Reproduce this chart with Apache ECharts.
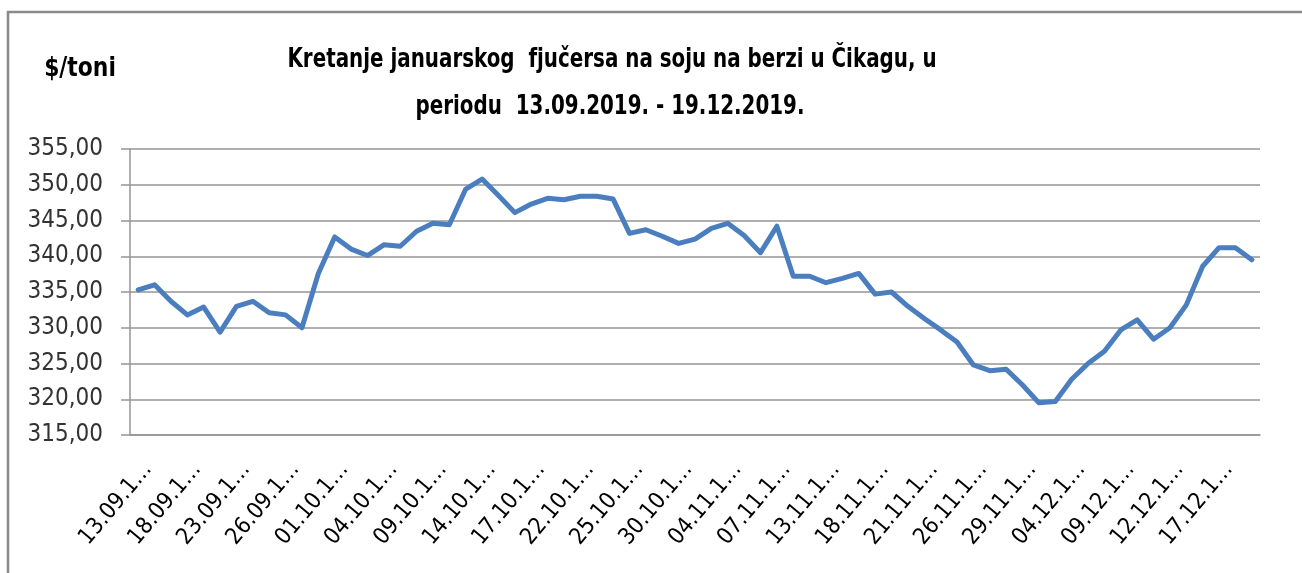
<!DOCTYPE html>
<html>
<head>
<meta charset="utf-8">
<script src="https://cdn.jsdelivr.net/npm/echarts@6/dist/echarts.min.js"></script>
<style>html,body{margin:0;padding:0;background:#fff;}#c{width:1302px;height:573px;}</style>
</head>
<body>
<div id="c"></div>
<script>
const titleLines = ['Kretanje januarskog  fjučersa na soju na berzi u Čikagu, u', 'periodu  13.09.2019. - 19.12.2019.'];
const unitLabel = '$/toni';
const dates = ['13.09.19.','16.09.19.','17.09.19.','18.09.19.','19.09.19.','20.09.19.','23.09.19.','24.09.19.','25.09.19.','26.09.19.','27.09.19.','30.09.19.',
'01.10.19.','02.10.19.','03.10.19.','04.10.19.','07.10.19.','08.10.19.','09.10.19.','10.10.19.','11.10.19.','14.10.19.','15.10.19.','16.10.19.','17.10.19.','18.10.19.','21.10.19.','22.10.19.','23.10.19.','24.10.19.','25.10.19.','28.10.19.','29.10.19.','30.10.19.','31.10.19.',
'01.11.19.','04.11.19.','05.11.19.','06.11.19.','07.11.19.','08.11.19.','12.11.19.','13.11.19.','14.11.19.','15.11.19.','18.11.19.','19.11.19.','20.11.19.','21.11.19.','22.11.19.','25.11.19.','26.11.19.','27.11.19.','28.11.19.','29.11.19.',
'02.12.19.','03.12.19.','04.12.19.','05.12.19.','06.12.19.','09.12.19.','10.12.19.','11.12.19.','12.12.19.','13.12.19.','16.12.19.','17.12.19.','18.12.19.','19.12.19.'];
const prices = [335.3,336.0,333.7,331.8,332.9,329.4,333.0,333.7,332.1,331.8,330.0,337.6,
342.7,341.0,340.1,341.6,341.4,343.5,344.6,344.4,349.4,350.8,348.5,346.1,347.3,348.1,347.9,348.4,348.4,348.0,343.2,343.7,342.8,341.8,342.4,
343.9,344.6,342.9,340.5,344.2,337.2,337.2,336.3,336.9,337.6,334.7,335.0,333.0,331.3,329.7,328.0,324.8,324.0,324.2,322.0,
319.5,319.7,322.8,325.0,326.7,329.7,331.1,328.4,330.0,333.2,338.6,341.2,341.2,339.5];
const yTicks = [315,320,325,330,335,340,345,350,355];

const FONT = "'DejaVu Sans Condensed','DejaVu Sans',sans-serif";
const chart = echarts.init(document.getElementById('c'), null, {renderer:'canvas'});
chart.setOption({
  animation:false,
  backgroundColor:'#fff',
  graphic:[
    {type:'rect', shape:{x:8,y:12,width:1400,height:700}, style:{fill:'none',stroke:'#8a8a8a',lineWidth:2.5}, silent:true},
    {type:'text', x:612, y:60, scaleX:0.85, style:{text:titleLines[0], font:"bold 26px "+FONT, fill:'#000', textAlign:'center', textVerticalAlign:'middle'}},
    {type:'text', x:610, y:107, scaleX:0.85, style:{text:titleLines[1], font:"bold 26px "+FONT, fill:'#000', textAlign:'center', textVerticalAlign:'middle'}},
    {type:'text', x:80, y:69, scaleX:0.9, style:{text:unitLabel, font:"bold 27px "+FONT, fill:'#000', textAlign:'center', textVerticalAlign:'middle'}}
  ],
  grid:{left:130, right:42, top:149, bottom:138, containLabel:false},
  xAxis:{
    type:'category', data:dates, boundaryGap:true,
    axisLine:{show:true, lineStyle:{color:'#959595', width:1.5}},
    axisTick:{show:false},
    axisLabel:{interval:2, rotate:50, margin:42, padding:[0,-15,0,0], color:'#000', fontFamily:FONT, fontSize:23,
      formatter:v=>v.slice(0,7)+'…'},
    splitLine:{show:false}
  },
  yAxis:{
    type:'value', min:yTicks[0], max:yTicks[yTicks.length-1], interval:yTicks[1]-yTicks[0],
    axisLine:{show:true, lineStyle:{color:'#959595', width:1.5}},
    axisTick:{show:true, length:9, lineStyle:{color:'#959595', width:1.5}},
    axisLabel:{margin:27, color:'#333', fontFamily:FONT, fontSize:24,
      formatter:v=>v.toFixed(2).replace('.',',')},
    splitLine:{show:true, lineStyle:{color:'#959595', width:1.5}}
  },
  series:[{
    type:'line', data:prices, showSymbol:false, symbol:'none',
    lineStyle:{color:'#4a7ebf', width:5, join:'round', cap:'round'}
  }]
});
</script>
</body>
</html>
